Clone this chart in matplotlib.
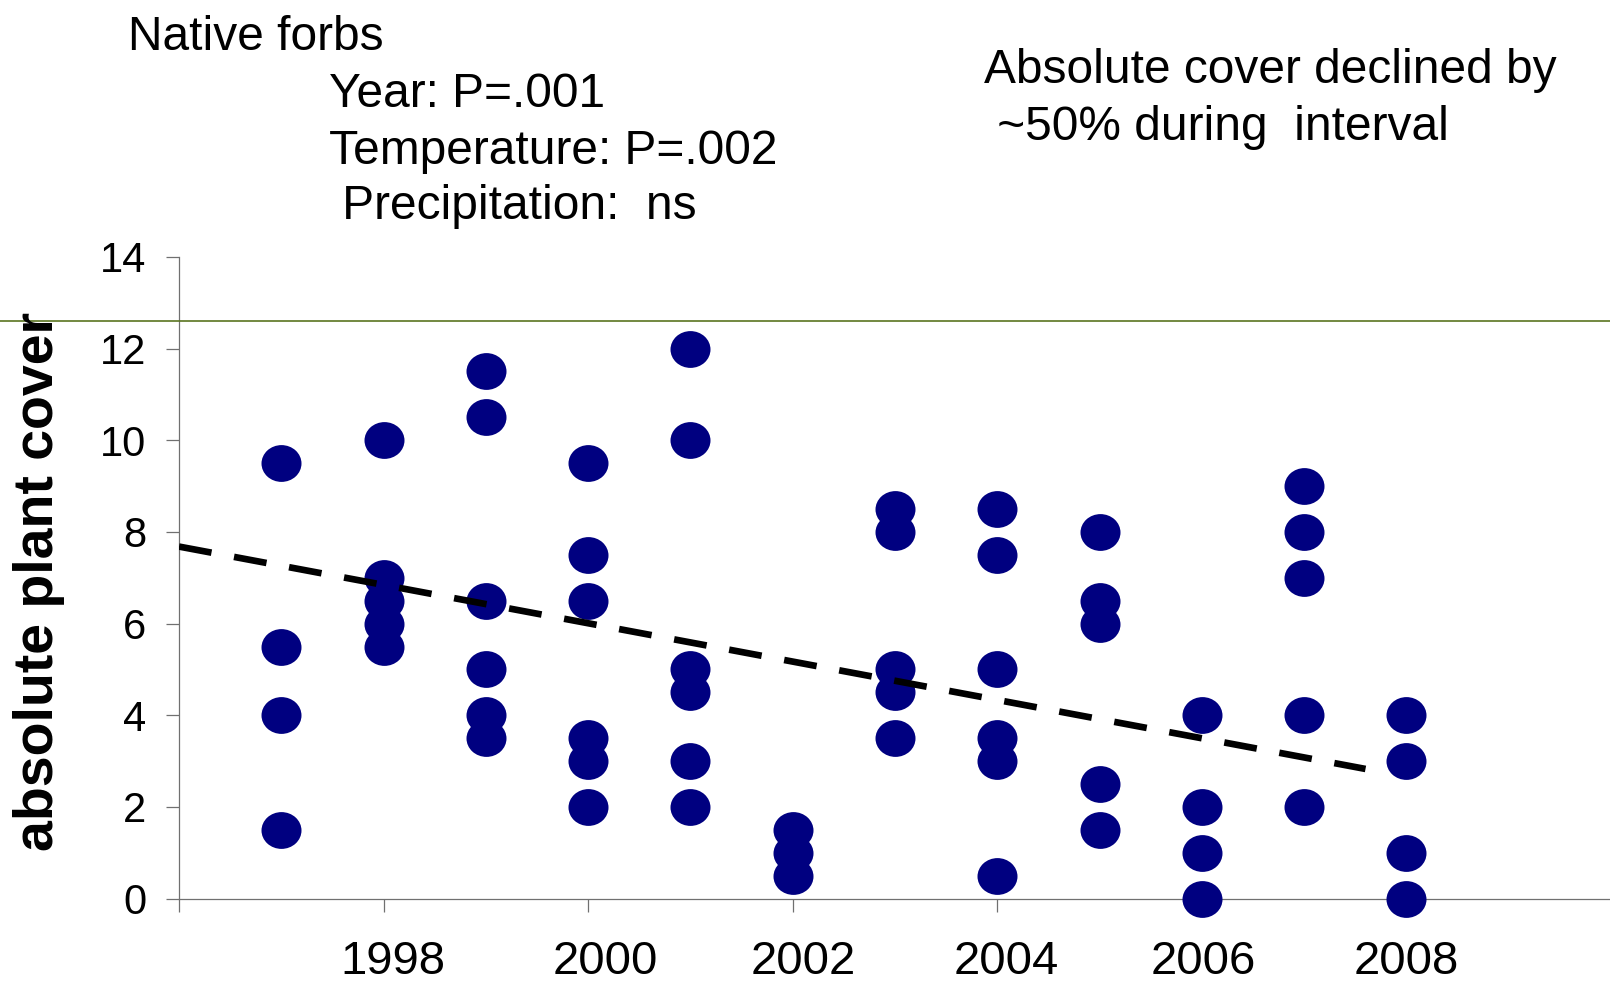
import numpy as np
import matplotlib
matplotlib.use("Agg")
import matplotlib.pyplot as plt
from matplotlib.path import Path
from matplotlib.lines import Line2D
import matplotlib.transforms as mtransforms

plt.rcParams['font.family'] = ['Liberation Sans', 'DejaVu Sans']
plt.rcParams['lines.scale_dashes'] = False

# cover values, per year
years = [1997, 1998, 1999, 2000, 2001, 2002, 2003, 2004, 2005, 2006, 2007, 2008]
cover = [
    [9.5, 5.5, 4, 1.5],
    [10, 7, 6.5, 6, 5.5],
    [11.5, 10.5, 6.5, 5, 4, 3.5],
    [9.5, 7.5, 6.5, 3.5, 3, 2],
    [12, 10, 5, 4.5, 3, 2],
    [1.5, 1, 0.5],
    [8.5, 8, 5, 4.5, 3.5],
    [8.5, 7.5, 5, 3.5, 3, 0.5],
    [8, 6.5, 6, 2.5, 1.5],
    [4, 2, 1, 0],
    [9, 8, 7, 4, 2],
    [4, 3, 1, 0],
]

# dashed trend line end points
trend_years = [1996, 2007.6]
trend_cover = [7.68, 2.83]

x_ticks = [1996, 1998, 2000, 2002, 2004, 2006, 2008, 2010]
x_ticklabels = ['', '1998', '2000', '2002', '2004', '2006', '2008', '']
label_nudge_px = [0, 9, 17, 11, 9, 1, 0, 0]   # labels sit a bit off their ticks
y_ticks = [0, 2, 4, 6, 8, 10, 12, 14]

rule_level = 12.61  # stray olive line across the slide

# flatten
xs = []
ys = []
for yr, vals in zip(years, cover):
    for v in vals:
        xs.append(yr)
        ys.append(v)

# -------------------------------------------------------------------------
W, H = 1610, 984
fig = plt.figure(figsize=(W / 100, H / 100), dpi=100)

x0, x1 = 179, 1611
y_bot, y_top = 898.7, 256.8
ax = fig.add_axes([x0 / W, (H - y_bot) / H, (x1 - x0) / W, (y_bot - y_top) / H])

# slightly flattened ellipse marker
circ = Path.unit_circle()
ell = Path(circ.vertices * np.array([1.0, 0.92]), circ.codes)

ax.plot(xs, ys, linestyle='none', marker=ell, markersize=28.8,
        color='#000080', markeredgewidth=0, clip_on=False, zorder=3)

ax.plot(trend_years, trend_cover, color='black', linewidth=4.8,
        dashes=(23.8, 16.5), solid_capstyle='butt', dash_capstyle='butt', zorder=4)

ax.set_xlim(1996, 2010)
ax.set_ylim(0, 14)

ax.set_xticks(x_ticks)
ax.set_xticklabels(x_ticklabels)
ax.set_yticks(y_ticks)

for s in ['top', 'right']:
    ax.spines[s].set_visible(False)
for s in ['left', 'bottom']:
    ax.spines[s].set_color('#707070')
    ax.spines[s].set_linewidth(0.9)

ax.tick_params(axis='y', direction='out', length=9.5, width=0.9, color='#707070',
               labelsize=30, pad=14)
ax.tick_params(axis='x', direction='out', length=9.5, width=0.9, color='#707070',
               labelsize=34, pad=20)

for lab, dx in zip(ax.get_xticklabels(), label_nudge_px):
    lab.set_transform(lab.get_transform() +
                      mtransforms.ScaledTranslation(dx / 100, 0, fig.dpi_scale_trans))

fig.text(39 / W, 1 - 581 / H, 'absolute plant cover', rotation=90,
         fontsize=40, fontweight='bold', ha='center', va='center')

# olive rule across whole figure width
trans = mtransforms.blended_transform_factory(fig.transFigure, ax.transData)
fig.add_artist(Line2D([0, 1], [rule_level, rule_level], transform=trans,
                      color='#5a7420', linewidth=1.2, zorder=1))

fs = 34.5
fig.text(128 / W, 1 - 50 / H, 'Native forbs', fontsize=fs, va='baseline')
fig.text(329 / W, 1 - 107 / H, 'Year: P=.001', fontsize=fs, va='baseline')
fig.text(329 / W, 1 - 164 / H, 'Temperature: P=.002', fontsize=fs, va='baseline')
fig.text(329 / W, 1 - 219 / H, ' Precipitation:  ns', fontsize=fs, va='baseline')
fig.text(984 / W, 1 - 83 / H, 'Absolute cover declined by', fontsize=fs, va='baseline')
fig.text(984 / W, 1 - 140 / H, ' ~50% during  interval', fontsize=fs, va='baseline')

plt.savefig("out.png", dpi=100)
